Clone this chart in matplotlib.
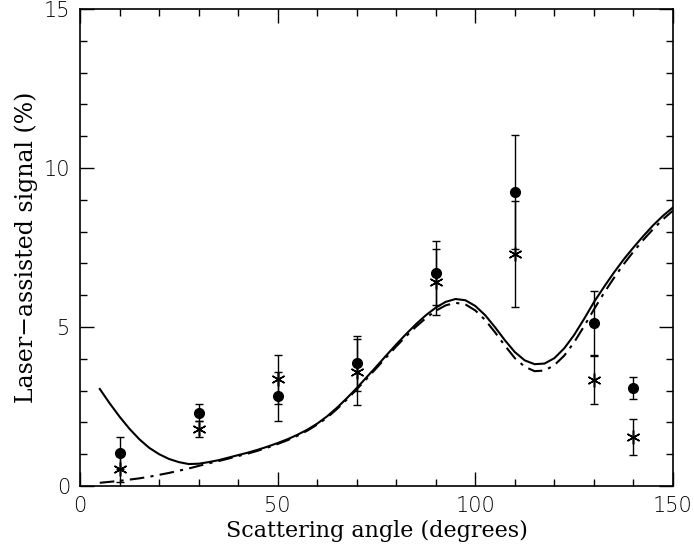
import numpy as np
from matplotlib import pyplot as plt
from matplotlib.ticker import MultipleLocator

# measured points (circles and stars) with error bars
angles = [10, 30, 50, 70, 90, 110, 130, 140]
circ_y = [1.04, 2.30, 2.82, 3.86, 6.69, 9.24, 5.13, 3.08]
circ_err = [0.50, 0.27, 0.77, 0.87, 1.00, 1.80, 1.01, 0.36]
star_y = [0.53, 1.79, 3.36, 3.59, 6.42, 7.30, 3.33, 1.55]
star_err = [0.40, 0.25, 0.77, 1.03, 1.03, 1.67, 0.76, 0.57]

# theory curves, every 2.5 degrees from 5 to 150
th_x = [5 + 2.5 * i for i in range(59)]
solid_y = [3.05, 2.60, 2.18, 1.80, 1.47, 1.20, 1.00, 0.85, 0.75, 0.69,
           0.70, 0.75, 0.81, 0.89, 0.97, 1.05, 1.14, 1.24, 1.35, 1.47,
           1.61, 1.77, 1.96, 2.19, 2.46, 2.76, 3.08, 3.42, 3.76, 4.11,
           4.45, 4.78, 5.09, 5.37, 5.61, 5.79, 5.88, 5.84, 5.66, 5.37,
           4.99, 4.58, 4.21, 3.95, 3.83, 3.85, 4.02, 4.33, 4.75, 5.25,
           5.78, 6.25, 6.70, 7.12, 7.50, 7.86, 8.20, 8.50, 8.76]
dashdot_y = [0.10, 0.13, 0.16, 0.20, 0.24, 0.29, 0.35, 0.41, 0.48, 0.55,
             0.63, 0.71, 0.78, 0.86, 0.94, 1.02, 1.11, 1.21, 1.32, 1.44,
             1.58, 1.74, 1.93, 2.15, 2.42, 2.72, 3.04, 3.37, 3.71, 4.05,
             4.39, 4.71, 5.01, 5.28, 5.51, 5.68, 5.76, 5.71, 5.52, 5.22,
             4.83, 4.41, 4.02, 3.75, 3.61, 3.63, 3.80, 4.10, 4.52, 5.02,
             5.55, 6.06, 6.53, 6.97, 7.37, 7.74, 8.08, 8.39, 8.66]

fig = plt.figure(figsize=(6.94, 5.49), dpi=100)
ax = fig.add_axes([0.1153, 0.1148, 0.8544, 0.8688])

ax.plot(th_x, solid_y, color='black', lw=1.5)
ax.plot(th_x, dashdot_y, color='black', lw=1.5, dashes=(7, 3, 1.5, 3))

ax.errorbar(angles, circ_y, yerr=circ_err, fmt='o', color='black', ms=7,
            capsize=3, elinewidth=1, capthick=1)
ax.errorbar(angles, star_y, yerr=star_err, fmt='none', ecolor='black',
            capsize=3, elinewidth=1, capthick=1)
ax.plot(angles, star_y, ls='none', marker=(6, 2, 0), color='black', ms=10,
        mew=1.1)

ax.set_xlim(0, 150)
ax.set_ylim(0, 15)
ax.xaxis.set_major_locator(MultipleLocator(50))
ax.xaxis.set_minor_locator(MultipleLocator(10))
ax.yaxis.set_major_locator(MultipleLocator(5))
ax.yaxis.set_minor_locator(MultipleLocator(1))
ax.tick_params(which='both', direction='in', top=True, right=True, width=1)
ax.tick_params(which='major', length=10, labelsize=15, pad=7)
ax.tick_params(which='minor', length=5)
for lab in ax.get_xticklabels() + ax.get_yticklabels():
    lab.set_family('DejaVu Sans')
    lab.set_fontweight('light')
for s in ax.spines.values():
    s.set_linewidth(1.2)

ax.set_xlabel('Scattering angle (degrees)', family='DejaVu Serif',
              fontsize=16, labelpad=3)
ax.set_ylabel('Laser\u2212assisted signal (%)', family='DejaVu Serif',
              fontsize=17, labelpad=4)

fig.savefig('out.png', dpi=100)
